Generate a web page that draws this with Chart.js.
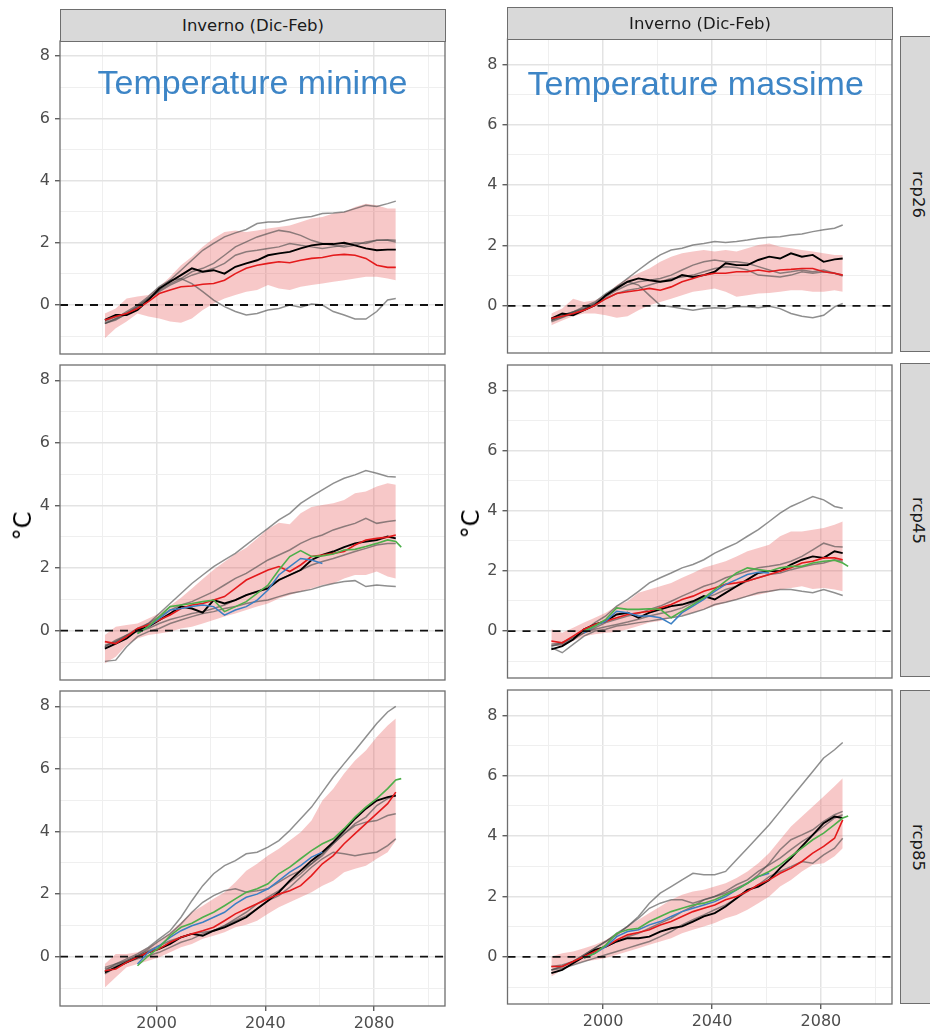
<!DOCTYPE html>
<html><head><meta charset="utf-8">
<script src="https://cdn.jsdelivr.net/npm/chart.js@4"></script>
<style>
html,body{margin:0;padding:0;background:#fff;}
#wrap{position:relative;width:930px;height:1030px;overflow:hidden;background:#fff;}
canvas{position:absolute;}
.strip{position:absolute;background:#d9d9d9;border:1.5px solid #6e6e6e;box-sizing:border-box;display:flex;align-items:center;justify-content:center;font-family:'DejaVu Sans',sans-serif;font-size:16.5px;color:#1a1a1a;white-space:nowrap;overflow:hidden;z-index:2;}
.vstrip{writing-mode:vertical-rl;}
.title{position:absolute;font-family:'Liberation Sans',Arial,sans-serif;font-size:34px;line-height:34px;color:#3d85c6;white-space:nowrap;z-index:3;}
.ylab{position:absolute;font-family:'DejaVu Sans',sans-serif;font-size:24px;color:#000;white-space:nowrap;transform:translate(-50%,-50%) rotate(-90deg);z-index:3;}
</style></head>
<body><div id="wrap"></div>
<script>
// ---------- data ----------
const years = [1981,1985,1989,1993,1997,2001,2005,2009,2013,2017,2021,2025,2029,2033,2037,2041,2045,2049,2053,2057,2061,2065,2069,2073,2077,2081,2085,2088,2090];
const yTicks = [-1,0,1,2,3,4,5,6,7,8];
const yLabels = [0,2,4,6,8];
const xTicks = [1980,2000,2020,2040,2060,2080,2100];
const xLabels = [2000,2040,2080];
const stripTop = 'Inverno (Dic-Feb)';
const rowLabels = ['rcp26','rcp45','rcp85'];
const titles = ['Temperature minime','Temperature massime'];

// Temperature minime, rcp26
const l1Black = [-0.48,-0.32,-0.32,-0.16,0.16,0.53,0.75,0.96,1.18,1.07,1.12,1.01,1.23,1.34,1.44,1.60,1.66,1.71,1.82,1.92,1.96,1.96,2.00,1.92,1.82,1.76,1.78,1.78];
const l1Red   = [-0.48,-0.37,-0.27,-0.11,0.11,0.37,0.48,0.59,0.61,0.67,0.69,0.80,1.01,1.18,1.28,1.34,1.39,1.36,1.44,1.50,1.53,1.60,1.63,1.60,1.50,1.28,1.21,1.21];
const l1G1 = [-0.53,-0.37,-0.27,-0.05,0.21,0.48,0.80,1.12,1.44,1.76,1.98,2.19,2.32,2.43,2.62,2.67,2.67,2.75,2.81,2.85,2.94,2.96,2.99,3.10,3.21,3.17,3.26,3.34];
const l1G2 = [-0.59,-0.43,-0.21,0.00,0.27,0.59,0.80,0.85,0.69,0.43,0.16,-0.05,-0.21,-0.32,-0.27,-0.16,-0.11,0.00,-0.07,0.03,0.00,-0.21,-0.32,-0.45,-0.45,-0.21,0.16,0.21];
const l1G3 = [-0.60,-0.45,-0.30,-0.11,0.16,0.48,0.69,0.85,1.07,1.18,1.34,1.60,1.87,2.03,2.19,2.30,2.40,2.35,2.24,2.08,1.98,1.92,1.87,1.92,2.03,2.08,2.08,2.03];
const l1G4 = [-0.59,-0.48,-0.27,-0.05,0.21,0.43,0.64,0.80,0.96,1.07,1.18,1.34,1.60,1.71,1.76,1.82,1.87,1.98,1.92,1.87,1.82,1.87,1.92,2.00,1.98,2.08,2.10,2.08];
const l1Hi = [-0.27,-0.11,0.21,0.27,0.32,0.59,0.91,1.28,1.55,1.87,2.14,2.35,2.40,2.35,2.40,2.46,2.51,2.56,2.67,2.78,2.83,2.94,2.99,3.15,3.26,3.21,3.10,3.10];
const l1Lo = [-1.07,-0.75,-0.53,-0.27,-0.37,-0.43,-0.53,-0.57,-0.43,-0.16,0.05,0.21,0.32,0.43,0.48,0.64,0.53,0.48,0.59,0.64,0.69,0.75,0.80,0.85,0.91,0.91,0.85,0.80];

// Temperature massime, rcp26
const r1Black = [-0.42,-0.25,-0.31,-0.14,0.02,0.35,0.58,0.80,0.91,0.85,0.80,0.85,1.02,0.96,1.02,1.13,1.41,1.35,1.35,1.52,1.63,1.57,1.74,1.63,1.69,1.46,1.54,1.57];
const r1Red   = [-0.42,-0.34,-0.25,-0.14,0.02,0.24,0.41,0.47,0.52,0.58,0.52,0.63,0.80,0.91,1.02,1.08,1.08,1.13,1.13,1.19,1.13,1.19,1.21,1.24,1.24,1.13,1.08,1.02];
const r1G1 = [-0.48,-0.31,-0.20,-0.03,0.13,0.41,0.63,0.91,1.19,1.46,1.69,1.85,1.91,2.02,2.07,2.13,2.10,2.13,2.18,2.24,2.27,2.29,2.35,2.38,2.46,2.52,2.57,2.68];
const r1G2 = [-0.48,-0.31,-0.20,-0.09,0.08,0.35,0.63,0.80,0.69,0.35,0.02,-0.03,-0.09,-0.14,-0.09,-0.06,-0.09,-0.03,-0.03,-0.06,-0.01,-0.09,-0.25,-0.34,-0.39,-0.31,-0.03,0.08];
const r1G3 = [-0.48,-0.37,-0.20,-0.09,0.08,0.30,0.52,0.69,0.80,0.85,0.91,1.02,1.19,1.35,1.46,1.52,1.46,1.46,1.41,1.30,1.19,1.08,1.13,1.19,1.13,1.19,1.08,0.99];
const r1G4 = [-0.53,-0.39,-0.25,-0.14,0.02,0.24,0.41,0.52,0.58,0.69,0.80,0.91,0.96,1.02,1.13,1.24,1.30,1.27,1.19,1.02,0.99,0.96,1.02,1.13,1.08,1.13,1.08,1.02];
const r1Hi = [-0.25,-0.09,0.24,0.13,0.19,0.35,0.69,0.91,1.08,1.24,1.46,1.63,1.74,1.80,1.85,1.80,1.85,1.80,1.91,2.02,2.07,1.96,1.91,1.85,1.80,1.74,1.69,1.69];
const r1Lo = [-0.64,-0.48,-0.34,-0.25,-0.25,-0.31,-0.39,-0.34,-0.14,0.02,0.13,0.24,0.35,0.47,0.52,0.58,0.47,0.30,0.35,0.41,0.43,0.47,0.52,0.52,0.47,0.47,0.52,0.47];

// Temperature minime, rcp45
const l2Black = [-0.57,-0.41,-0.25,0.02,0.13,0.34,0.55,0.77,0.71,0.58,0.98,0.87,0.98,1.14,1.25,1.35,1.62,1.78,1.94,2.26,2.42,2.53,2.67,2.79,2.85,2.90,3.01,2.95];
const l2Red   = [-0.35,-0.41,-0.19,0.07,0.18,0.34,0.50,0.71,0.82,0.87,0.98,1.09,1.35,1.62,1.78,1.94,2.05,1.89,2.10,2.37,2.42,2.47,2.53,2.74,2.90,2.95,2.99,3.06];
const l2Blue  = [null,null,null,-0.09,0.13,0.39,0.66,0.71,0.77,0.82,0.77,0.50,0.66,0.77,0.98,1.30,1.78,2.05,2.31,2.26,2.15];
const l2Green = [null,null,null,-0.09,0.13,0.45,0.77,0.82,0.87,0.93,0.98,0.61,0.77,0.93,1.19,1.46,1.94,2.37,2.56,2.37,2.39,2.45,2.58,2.60,2.69,2.79,2.90,2.85,2.67];
const l2G1 = [-0.51,-0.35,-0.19,0.02,0.23,0.55,0.87,1.19,1.51,1.78,2.05,2.26,2.47,2.74,3.01,3.27,3.54,3.75,4.07,4.29,4.50,4.71,4.87,4.98,5.12,5.03,4.93,4.91];
const l2G2 = [-0.98,-0.94,-0.51,-0.19,-0.03,0.07,0.23,0.34,0.45,0.55,0.61,0.71,0.77,0.87,0.93,0.98,1.09,1.19,1.25,1.32,1.43,1.51,1.57,1.60,1.41,1.46,1.43,1.41];
const l2G3 = [-0.46,-0.35,-0.14,0.07,0.23,0.45,0.66,0.82,0.93,1.09,1.25,1.46,1.67,1.83,2.05,2.26,2.42,2.58,2.79,2.95,3.06,3.22,3.33,3.43,3.59,3.43,3.49,3.52];
const l2G4 = [-0.51,-0.30,-0.14,-0.03,0.07,0.23,0.36,0.45,0.55,0.61,0.71,0.82,0.98,1.14,1.25,1.41,1.62,1.78,1.94,2.10,2.21,2.31,2.42,2.53,2.63,2.74,2.79,2.79];
const l2Hi = [-0.14,0.13,0.18,0.23,0.39,0.55,0.80,1.05,1.35,1.65,1.95,2.20,2.45,2.65,2.95,3.25,3.45,3.40,3.75,3.95,4.02,4.07,4.18,4.39,4.45,4.61,4.71,4.66];
const l2Lo = [-1.05,-0.83,-0.46,-0.25,-0.14,-0.09,-0.03,0.07,0.13,0.23,0.34,0.45,0.55,0.66,0.77,0.87,1.03,1.14,1.25,1.35,1.46,1.51,1.67,1.78,1.78,1.89,1.73,1.67];

// Temperature massime, rcp45
const r2Black = [-0.61,-0.50,-0.28,0.06,0.22,0.33,0.55,0.61,0.44,0.61,0.72,0.83,0.88,0.99,1.16,1.05,1.27,1.49,1.71,1.93,1.99,1.99,2.21,2.37,2.48,2.43,2.65,2.59];
const r2Red   = [-0.33,-0.39,-0.17,0.06,0.22,0.33,0.44,0.55,0.61,0.66,0.77,0.88,1.05,1.16,1.32,1.43,1.55,1.60,1.66,1.77,1.88,1.99,2.10,2.26,2.32,2.43,2.43,2.37];
const r2Blue  = [null,null,null,-0.06,0.17,0.33,0.66,0.61,0.50,0.50,0.44,0.24,0.61,0.83,1.05,1.32,1.55,1.71,1.88,1.95,1.93];
const r2Green = [null,null,null,0.00,0.17,0.39,0.77,0.72,0.72,0.74,0.72,0.44,0.66,0.88,1.10,1.38,1.66,1.93,2.10,2.04,1.99,2.10,2.15,2.15,2.26,2.32,2.35,2.26,2.15];
const r2G1 = [-0.50,-0.39,-0.22,0.00,0.28,0.50,0.83,1.05,1.32,1.60,1.77,1.93,2.10,2.21,2.37,2.59,2.76,2.92,3.15,3.37,3.64,3.92,4.14,4.30,4.47,4.36,4.14,4.08];
const r2G2 = [-0.55,-0.72,-0.44,-0.17,0.00,0.06,0.17,0.22,0.28,0.33,0.39,0.44,0.50,0.61,0.72,0.88,0.96,1.05,1.16,1.27,1.32,1.38,1.38,1.32,1.27,1.38,1.27,1.18];
const r2G3 = [-0.50,-0.44,-0.28,-0.06,0.11,0.28,0.39,0.50,0.58,0.72,0.83,0.99,1.16,1.32,1.49,1.60,1.77,1.88,1.99,2.10,2.15,2.21,2.32,2.48,2.70,2.92,2.81,2.79];
const r2G4 = [-0.44,-0.39,-0.22,-0.06,0.06,0.14,0.22,0.30,0.39,0.50,0.58,0.66,0.77,0.94,1.10,1.21,1.38,1.49,1.66,1.77,1.88,1.93,2.04,2.13,2.21,2.26,2.37,2.32];
const r2Hi = [0.06,-0.06,0.11,0.28,0.44,0.61,0.83,0.99,1.27,1.38,1.49,1.60,1.77,1.93,2.10,2.21,2.32,2.48,2.65,2.76,2.87,3.15,3.31,3.31,3.37,3.42,3.53,3.64];
const r2Lo = [-0.50,-0.50,-0.33,-0.17,-0.11,-0.06,-0.03,0.06,0.17,0.28,0.33,0.44,0.52,0.61,0.72,0.83,0.94,1.05,1.14,1.21,1.29,1.38,1.43,1.49,1.40,1.43,1.38,1.32];

// Temperature minime, rcp85
const l3Black = [-0.50,-0.34,-0.18,-0.02,0.14,0.25,0.41,0.62,0.73,0.67,0.83,0.94,1.10,1.26,1.53,1.79,2.06,2.43,2.75,3.07,3.34,3.66,4.03,4.41,4.73,4.99,5.10,5.15];
const l3Red   = [-0.45,-0.39,-0.18,-0.02,0.14,0.25,0.46,0.62,0.73,0.83,0.94,1.15,1.37,1.53,1.69,1.85,2.00,2.11,2.27,2.59,2.97,3.23,3.61,3.93,4.25,4.57,4.89,5.26];
const l3Blue  = [null,null,null,-0.23,0.14,0.35,0.62,0.83,0.99,1.10,1.26,1.42,1.69,1.90,2.00,2.17,2.43,2.70,2.91,3.18,3.34];
const l3Green = [null,null,null,-0.29,0.03,0.30,0.67,0.94,1.07,1.26,1.42,1.63,1.85,2.06,2.17,2.33,2.65,2.86,3.13,3.39,3.61,3.77,4.09,4.46,4.78,5.05,5.37,5.65,5.69];
const l3G1 = [-0.45,-0.23,-0.07,0.09,0.30,0.57,0.83,1.26,1.79,2.27,2.65,2.91,3.07,3.29,3.34,3.50,3.71,4.03,4.41,4.78,5.26,5.74,6.17,6.59,7.02,7.45,7.82,8.00];
const l3G2 = [-0.55,-0.34,-0.18,-0.07,0.03,0.14,0.30,0.46,0.57,0.73,0.83,0.99,1.15,1.31,1.53,1.79,1.95,2.22,2.54,2.86,3.13,3.34,3.29,3.23,3.29,3.34,3.55,3.77];
const l3G3 = [-0.34,-0.23,-0.13,0.03,0.25,0.51,0.73,1.05,1.42,1.74,1.95,2.11,2.17,2.06,2.11,2.17,2.38,2.59,2.75,2.97,3.23,3.61,3.93,4.19,4.30,4.35,4.51,4.57];
const l3G4 = [-0.39,-0.29,-0.13,0.03,0.19,0.35,0.51,0.62,0.73,0.78,0.83,0.99,1.21,1.42,1.69,1.90,2.11,2.38,2.65,2.97,3.29,3.61,3.93,4.25,4.46,4.83,5.05,5.15];
const l3Hi = [-0.23,0.09,0.09,0.14,0.30,0.51,0.78,1.10,1.42,1.63,1.85,2.06,2.38,2.75,2.97,3.23,3.45,3.71,3.98,4.35,4.99,5.37,5.85,6.27,6.59,7.02,7.39,7.61];
const l3Lo = [-0.98,-0.66,-0.34,-0.23,-0.13,-0.02,0.14,0.30,0.41,0.57,0.67,0.78,0.94,1.02,1.15,1.37,1.58,1.74,1.90,2.06,2.27,2.43,2.70,2.81,2.91,3.13,3.34,3.71];

// Temperature massime, rcp85
const r3Black = [-0.54,-0.43,-0.21,0.01,0.23,0.34,0.51,0.62,0.62,0.67,0.84,0.95,1.01,1.17,1.34,1.45,1.67,1.94,2.22,2.33,2.55,2.94,3.27,3.66,4.04,4.43,4.65,4.60];
const r3Red   = [-0.32,-0.32,-0.15,0.01,0.18,0.34,0.56,0.73,0.81,0.90,1.06,1.17,1.34,1.50,1.61,1.72,1.89,2.00,2.17,2.39,2.55,2.77,2.94,3.16,3.44,3.66,3.93,4.54];
const r3Blue  = [null,null,null,-0.04,0.12,0.34,0.67,0.84,0.90,1.06,1.17,1.34,1.50,1.61,1.72,1.83,2.00,2.22,2.44,2.66,2.77];
const r3Green = [null,null,null,-0.04,0.12,0.40,0.78,0.90,0.95,1.17,1.34,1.50,1.61,1.72,1.78,1.89,2.06,2.22,2.44,2.66,2.83,3.05,3.33,3.60,3.88,4.10,4.38,4.60,4.67];
const r3G1 = [-0.43,-0.32,-0.15,0.07,0.29,0.51,0.78,1.01,1.34,1.78,2.11,2.33,2.55,2.77,2.72,2.72,2.83,3.22,3.60,3.99,4.38,4.82,5.26,5.70,6.14,6.59,6.86,7.10];
const r3G2 = [-0.43,-0.38,-0.27,-0.15,-0.04,0.07,0.18,0.29,0.40,0.51,0.67,0.84,1.06,1.23,1.39,1.56,1.72,1.94,2.17,2.39,2.66,2.83,2.99,3.16,3.10,3.38,3.60,3.93];
const r3G3 = [-0.32,-0.27,-0.15,0.07,0.29,0.51,0.73,1.01,1.28,1.61,1.78,1.89,1.89,1.78,1.89,2.00,2.11,2.28,2.44,2.72,3.10,3.55,3.88,4.04,4.21,4.49,4.71,4.82];
const r3G4 = [-0.43,-0.32,-0.15,0.01,0.18,0.34,0.51,0.67,0.78,0.95,1.12,1.28,1.50,1.67,1.89,2.00,2.17,2.39,2.55,2.83,3.05,3.27,3.55,3.82,4.04,4.32,4.60,4.71];
const r3Hi = [0.01,0.12,0.18,0.29,0.40,0.56,0.78,1.01,1.23,1.45,1.67,1.89,2.06,2.17,2.22,2.33,2.44,2.61,2.83,3.10,3.44,3.88,4.32,4.65,4.98,5.31,5.65,5.92];
const r3Lo = [-0.65,-0.43,-0.27,-0.15,-0.10,-0.04,0.07,0.18,0.29,0.40,0.51,0.62,0.78,0.90,1.01,1.12,1.28,1.39,1.56,1.78,2.00,2.33,2.55,2.83,3.05,3.10,3.33,3.60];

// ---------- layout / style ----------
const panels = [
  {cx:0,   cy:25,  cw:450, ch:345, yw:60,   padR:5, bottom:false, xmin:1964.5, xmax:2106.1, ymin:-1.575, ymax:8.49, lo:l1Lo, hi:l1Hi, grays:[l1G1,l1G2,l1G3,l1G4], black:l1Black, red:l1Red},
  {cx:450, cy:23,  cw:445, ch:346, yw:57.5, padR:3, bottom:false, xmin:1964.9, xmax:2106.1, ymin:-1.56,  ymax:8.84, lo:r1Lo, hi:r1Hi, grays:[r1G1,r1G2,r1G3,r1G4], black:r1Black, red:r1Red},
  {cx:0,   cy:349, cw:450, ch:347, yw:60,   padR:5, bottom:false, xmin:1964.5, xmax:2106.1, ymin:-1.575, ymax:8.49, lo:l2Lo, hi:l2Hi, grays:[l2G1,l2G2,l2G3,l2G4], black:l2Black, red:l2Red, blue:l2Blue, green:l2Green},
  {cx:450, cy:349, cw:445, ch:345, yw:57.5, padR:3, bottom:false, xmin:1964.9, xmax:2106.1, ymin:-1.56,  ymax:8.84, lo:r2Lo, hi:r2Hi, grays:[r2G1,r2G2,r2G3,r2G4], black:r2Black, red:r2Red, blue:r2Blue, green:r2Green},
  {cx:0,   cy:675, cw:450, ch:355, yw:60,   padR:5, bottom:true, xh:24, xmin:1964.5, xmax:2106.1, ymin:-1.575, ymax:8.49, lo:l3Lo, hi:l3Hi, grays:[l3G1,l3G2,l3G3,l3G4], black:l3Black, red:l3Red, blue:l3Blue, green:l3Green},
  {cx:450, cy:674, cw:445, ch:356, yw:57.5, padR:3, bottom:true, xh:26, xmin:1964.9, xmax:2106.1, ymin:-1.56,  ymax:8.84, lo:r3Lo, hi:r3Hi, grays:[r3G1,r3G2,r3G3,r3G4], black:r3Black, red:r3Red, blue:r3Blue, green:r3Green}
];

const BAND = 'rgba(232,88,88,0.33)';
const GRAY = 'rgba(75,75,75,0.62)';
const MAJ = '#e3e3e3', MIN = '#efefef';
const TICKFONT = {family:'DejaVu Sans', size:16};

const wrap = document.getElementById('wrap');
function pts(arr){ const out=[]; years.forEach((yr,i)=>{ if(arr[i]!=null) out.push({x:yr,y:arr[i]}); }); return out; }

const boxPlugin = {
  id:'box',
  afterDraw(chart){
    const {ctx, chartArea:a} = chart;
    ctx.save(); ctx.strokeStyle='#6e6e6e'; ctx.lineWidth=1.3;
    ctx.strokeRect(a.left, a.top, a.right-a.left, a.bottom-a.top);
    ctx.restore();
  }
};

panels.forEach(p => {
  const c = document.createElement('canvas');
  c.width = p.cw; c.height = p.ch;
  c.style.left = p.cx+'px'; c.style.top = p.cy+'px';
  c.style.width = p.cw+'px'; c.style.height = p.ch+'px';
  wrap.appendChild(c);
  const line = (arr,color,w,order) => ({data:pts(arr), borderColor:color, borderWidth:w, pointRadius:0, fill:false, order});
  const ds = [
    {data:pts(p.lo), borderWidth:0, borderColor:'rgba(0,0,0,0)', pointRadius:0, fill:false, order:10},
    {data:pts(p.hi), borderWidth:0, borderColor:'rgba(0,0,0,0)', pointRadius:0, fill:'-1', backgroundColor:BAND, order:10}
  ];
  p.grays.forEach(g => ds.push(line(g, GRAY, 1.5, 8)));
  ds.push(line(p.black, '#000000', 1.9, 4));
  ds.push(line(p.red, '#e41a1c', 1.6, 3));
  if (p.blue) ds.push(line(p.blue, '#3a7fc4', 1.5, 2));
  if (p.green) ds.push(line(p.green, '#4daf4a', 1.6, 1));
  ds.push({data:[{x:p.xmin,y:0},{x:p.xmax,y:0}], borderColor:'#111', borderWidth:1.8, borderDash:[8,7], pointRadius:0, fill:false, order:0});

  new Chart(c, {
    type:'line',
    data:{datasets:ds},
    options:{
      responsive:false, animation:false, devicePixelRatio:1,
      layout:{padding:{left:0, right:p.padR, top:16, bottom:p.bottom?0:16}},
      plugins:{legend:{display:false}, tooltip:{enabled:false}},
      elements:{line:{tension:0}, point:{radius:0}},
      scales:{
        x:{type:'linear', min:p.xmin, max:p.xmax, bounds:'data',
          afterBuildTicks:s=>{ s.ticks = xTicks.map(v=>({value:v})); },
          afterFit:s=>{ s.height = p.bottom ? p.xh : 0; },
          ticks:{display:p.bottom, autoSkip:false, maxRotation:0, padding:3, font:TICKFONT, color:'#4d4d4d',
            callback:v=> xLabels.includes(v) ? String(v) : ''},
          grid:{color:ctx=> xLabels.includes(ctx.tick.value) ? MAJ : MIN,
                lineWidth:ctx=> xLabels.includes(ctx.tick.value) ? 1.5 : 1,
                drawTicks:p.bottom, tickLength:5, tickWidth:1.2,
                tickColor:ctx=> xLabels.includes(ctx.tick.value) ? '#444' : 'rgba(0,0,0,0)'},
          border:{display:false}
        },
        y:{type:'linear', min:p.ymin, max:p.ymax, bounds:'data',
          afterBuildTicks:s=>{ s.ticks = yTicks.map(v=>({value:v})); },
          afterFit:s=>{ s.width = p.yw; },
          ticks:{autoSkip:false, padding:5, font:TICKFONT, color:'#4d4d4d',
            callback:v=> yLabels.includes(v) ? String(v) : ''},
          grid:{color:ctx=> yLabels.includes(ctx.tick.value) ? MAJ : MIN,
                lineWidth:ctx=> yLabels.includes(ctx.tick.value) ? 1.5 : 1,
                drawTicks:true, tickLength:5, tickWidth:1.2,
                tickColor:ctx=> yLabels.includes(ctx.tick.value) ? '#444' : 'rgba(0,0,0,0)'},
          border:{display:false}
        }
      }
    },
    plugins:[boxPlugin]
  });
});

// ---------- strips, titles, axis titles ----------
function addDiv(cls, text, style){
  const d = document.createElement('div'); d.className = cls; d.textContent = text;
  Object.assign(d.style, style); wrap.appendChild(d); return d;
}
addDiv('strip', stripTop, {left:'60px', top:'9px', width:'386px', height:'33px'});
addDiv('strip', stripTop, {left:'507px', top:'7px', width:'386px', height:'33px'});
addDiv('strip vstrip', rowLabels[0], {left:'900px', top:'36px', width:'36px', height:'316px'});
addDiv('strip vstrip', rowLabels[1], {left:'900px', top:'363px', width:'36px', height:'314px'});
addDiv('strip vstrip', rowLabels[2], {left:'900px', top:'690px', width:'36px', height:'314px'});
addDiv('title', titles[0], {left:'97.5px', top:'65px'});
addDiv('title', titles[1], {left:'527.5px', top:'66px'});
addDiv('ylab', '°C', {left:'23px', top:'526px'});
addDiv('ylab', '°C', {left:'471px', top:'524px'});
</script>
</body></html>
